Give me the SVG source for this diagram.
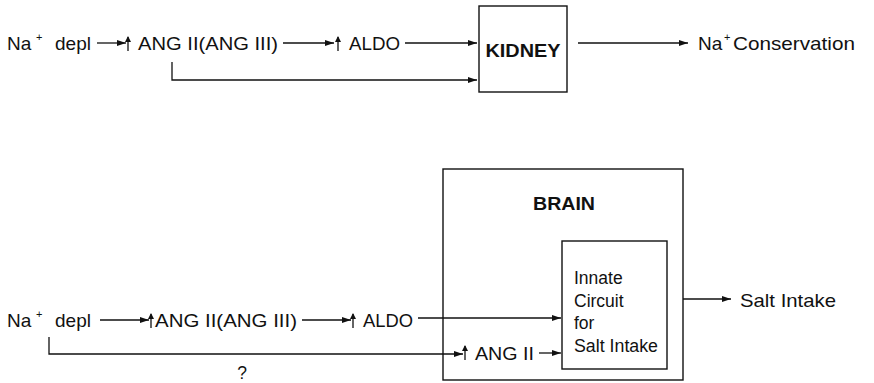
<svg xmlns="http://www.w3.org/2000/svg" width="874" height="383" viewBox="0 0 874 383">
<style>
text{font-family:"Liberation Sans",Arial,sans-serif;font-size:19px;fill:#111}
.b{font-weight:bold}
.sup{font-size:11px}
.s{font-size:17.5px}
.ln{stroke:#111;stroke-width:1.3;fill:none}
.box{stroke:#111;stroke-width:1.4;fill:#fff}
.up{stroke:#111;stroke-width:1.3;fill:none;marker-end:url(#uh)}
.ar{marker-end:url(#ah)}
</style>
<defs>
<marker id="ah" markerUnits="userSpaceOnUse" markerWidth="10" markerHeight="8" refX="9" refY="4" orient="auto">
<path d="M0,1 L9,4 L0,7 Z" fill="#111"/>
</marker>
<marker id="uh" markerUnits="userSpaceOnUse" markerWidth="6" markerHeight="8" refX="5" refY="3" orient="auto">
<path d="M0,0 L6,3 L0,6 Z" fill="#111"/>
</marker>
</defs>
<rect width="874" height="383" fill="#fff"/>

<!-- top row -->
<g id="na-depl-top"><text x="7" y="50">Na</text><text class="sup" x="36" y="41">+</text><text x="55" y="50">depl</text></g>
<g id="ang-top"><path class="up" d="M128,51 V37"/><text x="138" y="50" textLength="140" lengthAdjust="spacingAndGlyphs">ANG II(ANG III)</text></g>
<g id="aldo-top"><path class="up" d="M338,51 V37"/><text x="349" y="50" textLength="51" lengthAdjust="spacingAndGlyphs">ALDO</text></g>
<g id="kidney"><rect class="box" x="479" y="6" width="88" height="86"/><text class="b" x="523" y="57" text-anchor="middle" textLength="75" lengthAdjust="spacingAndGlyphs">KIDNEY</text></g>
<g id="na-cons-top"><text x="698" y="50">Na</text><text class="sup" x="724" y="41">+</text><text x="733" y="50" textLength="122" lengthAdjust="spacingAndGlyphs">Conservation</text></g>

<!-- bottom row -->
<g id="na-depl-bot"><text x="7" y="327">Na</text><text class="sup" x="36" y="318">+</text><text x="55" y="327">depl</text></g>
<g id="ang-bot"><path class="up" d="M151,328 V314"/><text x="155" y="327" textLength="142" lengthAdjust="spacingAndGlyphs">ANG II(ANG III)</text></g>
<g id="aldo-bot"><path class="up" d="M353,328 V314"/><text x="363" y="327" textLength="50" lengthAdjust="spacingAndGlyphs">ALDO</text></g>
<g id="brain"><rect class="box" x="443" y="169" width="240" height="211"/><text class="b" x="564" y="210" text-anchor="middle" textLength="62" lengthAdjust="spacingAndGlyphs">BRAIN</text></g>
<g id="circuit"><rect class="box" x="562" y="241" width="105" height="128"/>
<text class="s" x="574" y="284">Innate</text>
<text class="s" x="574" y="306.5">Circuit</text>
<text class="s" x="574" y="329">for</text>
<text class="s" x="574" y="351.5" textLength="84" lengthAdjust="spacingAndGlyphs">Salt Intake</text></g>
<g id="ang2-bot"><path class="up" d="M465,360 V346"/><text x="475" y="360" textLength="59" lengthAdjust="spacingAndGlyphs">ANG II</text></g>
<g id="salt-intake"><text x="740" y="307" textLength="96" lengthAdjust="spacingAndGlyphs">Salt Intake</text></g>
<g id="q-label"><text class="s" x="242" y="379" text-anchor="middle">?</text></g>

<g id="connectors">
<path class="ln ar" d="M97,43 H126"/>
<path class="ln ar" d="M283,43 H334"/>
<path class="ln ar" d="M405,43 H477"/>
<path class="ln ar" d="M172,62 V80 H477"/>
<path class="ln ar" d="M578,43 H688"/>
<path class="ln ar" d="M100,320 H149"/>
<path class="ln ar" d="M302,320 H351"/>
<path class="ln ar" d="M418,318 H561"/>
<path class="ln ar" d="M49,337 V354 H463"/>
<path class="ln ar" d="M539,353 H561"/>
<path class="ln ar" d="M683,299 H731"/>
</g>
</svg>
